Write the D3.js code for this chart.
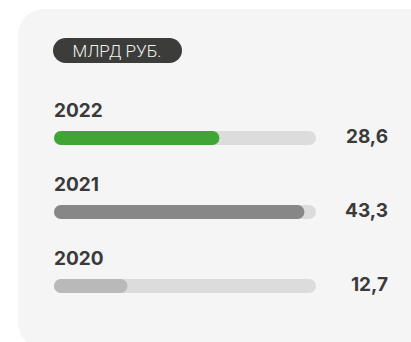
<!DOCTYPE html>
<html>
<head>
<meta charset="utf-8">
<script src="https://cdn.jsdelivr.net/npm/d3@7"></script>
<style>
  html, body { margin: 0; padding: 0; background: #fff; }
  svg { display: block; }
</style>
</head>
<body>
<svg id="chart" width="411" height="342"></svg>
<script>
// Yearly amounts, billion rubles
const years = ["2022", "2021", "2020"];
const values = [28.6, 43.3, 12.7];
const valueLabels = ["28,6", "43,3", "12,7"];
const barColors = ["#3fa535", "#878787", "#b9b9b9"];
const unitLabel = "МЛРД РУБ.";

const svg = d3.select("#chart");
const font = "Inter, 'Noto Sans', sans-serif";
const textColor = "#3a3a3a";

// card background
svg.append("rect")
  .attr("x", 18).attr("y", 9)
  .attr("width", 420).attr("height", 340)
  .attr("rx", 26).attr("ry", 26)
  .attr("fill", "#f5f5f5");

// unit pill
const pill = svg.append("g");
pill.append("rect")
  .attr("x", 53).attr("y", 38)
  .attr("width", 129).attr("height", 25)
  .attr("rx", 12.5)
  .attr("fill", "#3c3c3a");
pill.append("text")
  .attr("x", 117).attr("y", 56.5)
  .attr("text-anchor", "middle")
  .attr("font-family", "Roboto, sans-serif")
  .attr("font-weight", 300)
  .attr("font-size", 17)
  .attr("fill", "#f2f2f2")
  .text(unitLabel);

// scales
const x = d3.scaleLinear().domain([0, 45.3]).range([54, 316]);
const y = d3.scaleBand().domain(years).range([100, 322]).paddingInner(0);
const barH = 14;
const barOffset = 31; // from band top to bar top

const rows = svg.selectAll("g.row")
  .data(years.map((yr, i) => ({ yr, v: values[i], label: valueLabels[i], color: barColors[i] })))
  .join("g")
  .attr("class", "row")
  .attr("transform", d => `translate(0, ${y(d.yr)})`);

rows.append("text")
  .attr("x", 54).attr("y", 17)
  .attr("font-family", font)
  .attr("font-weight", 700)
  .attr("font-size", 19)
  .attr("fill", textColor)
  .text(d => d.yr);

rows.append("rect")
  .attr("x", x(0)).attr("y", barOffset)
  .attr("width", x.range()[1] - x(0)).attr("height", barH)
  .attr("rx", barH / 2)
  .attr("fill", "#dcdcdc");

rows.append("rect")
  .attr("x", x(0)).attr("y", barOffset)
  .attr("width", d => x(d.v) - x(0)).attr("height", barH)
  .attr("rx", barH / 2)
  .attr("fill", d => d.color);

rows.append("text")
  .attr("x", 388).attr("y", 43)
  .attr("text-anchor", "end")
  .attr("font-family", font)
  .attr("font-weight", 700)
  .attr("font-size", 19)
  .attr("fill", textColor)
  .text(d => d.label);
</script>
</body>
</html>
